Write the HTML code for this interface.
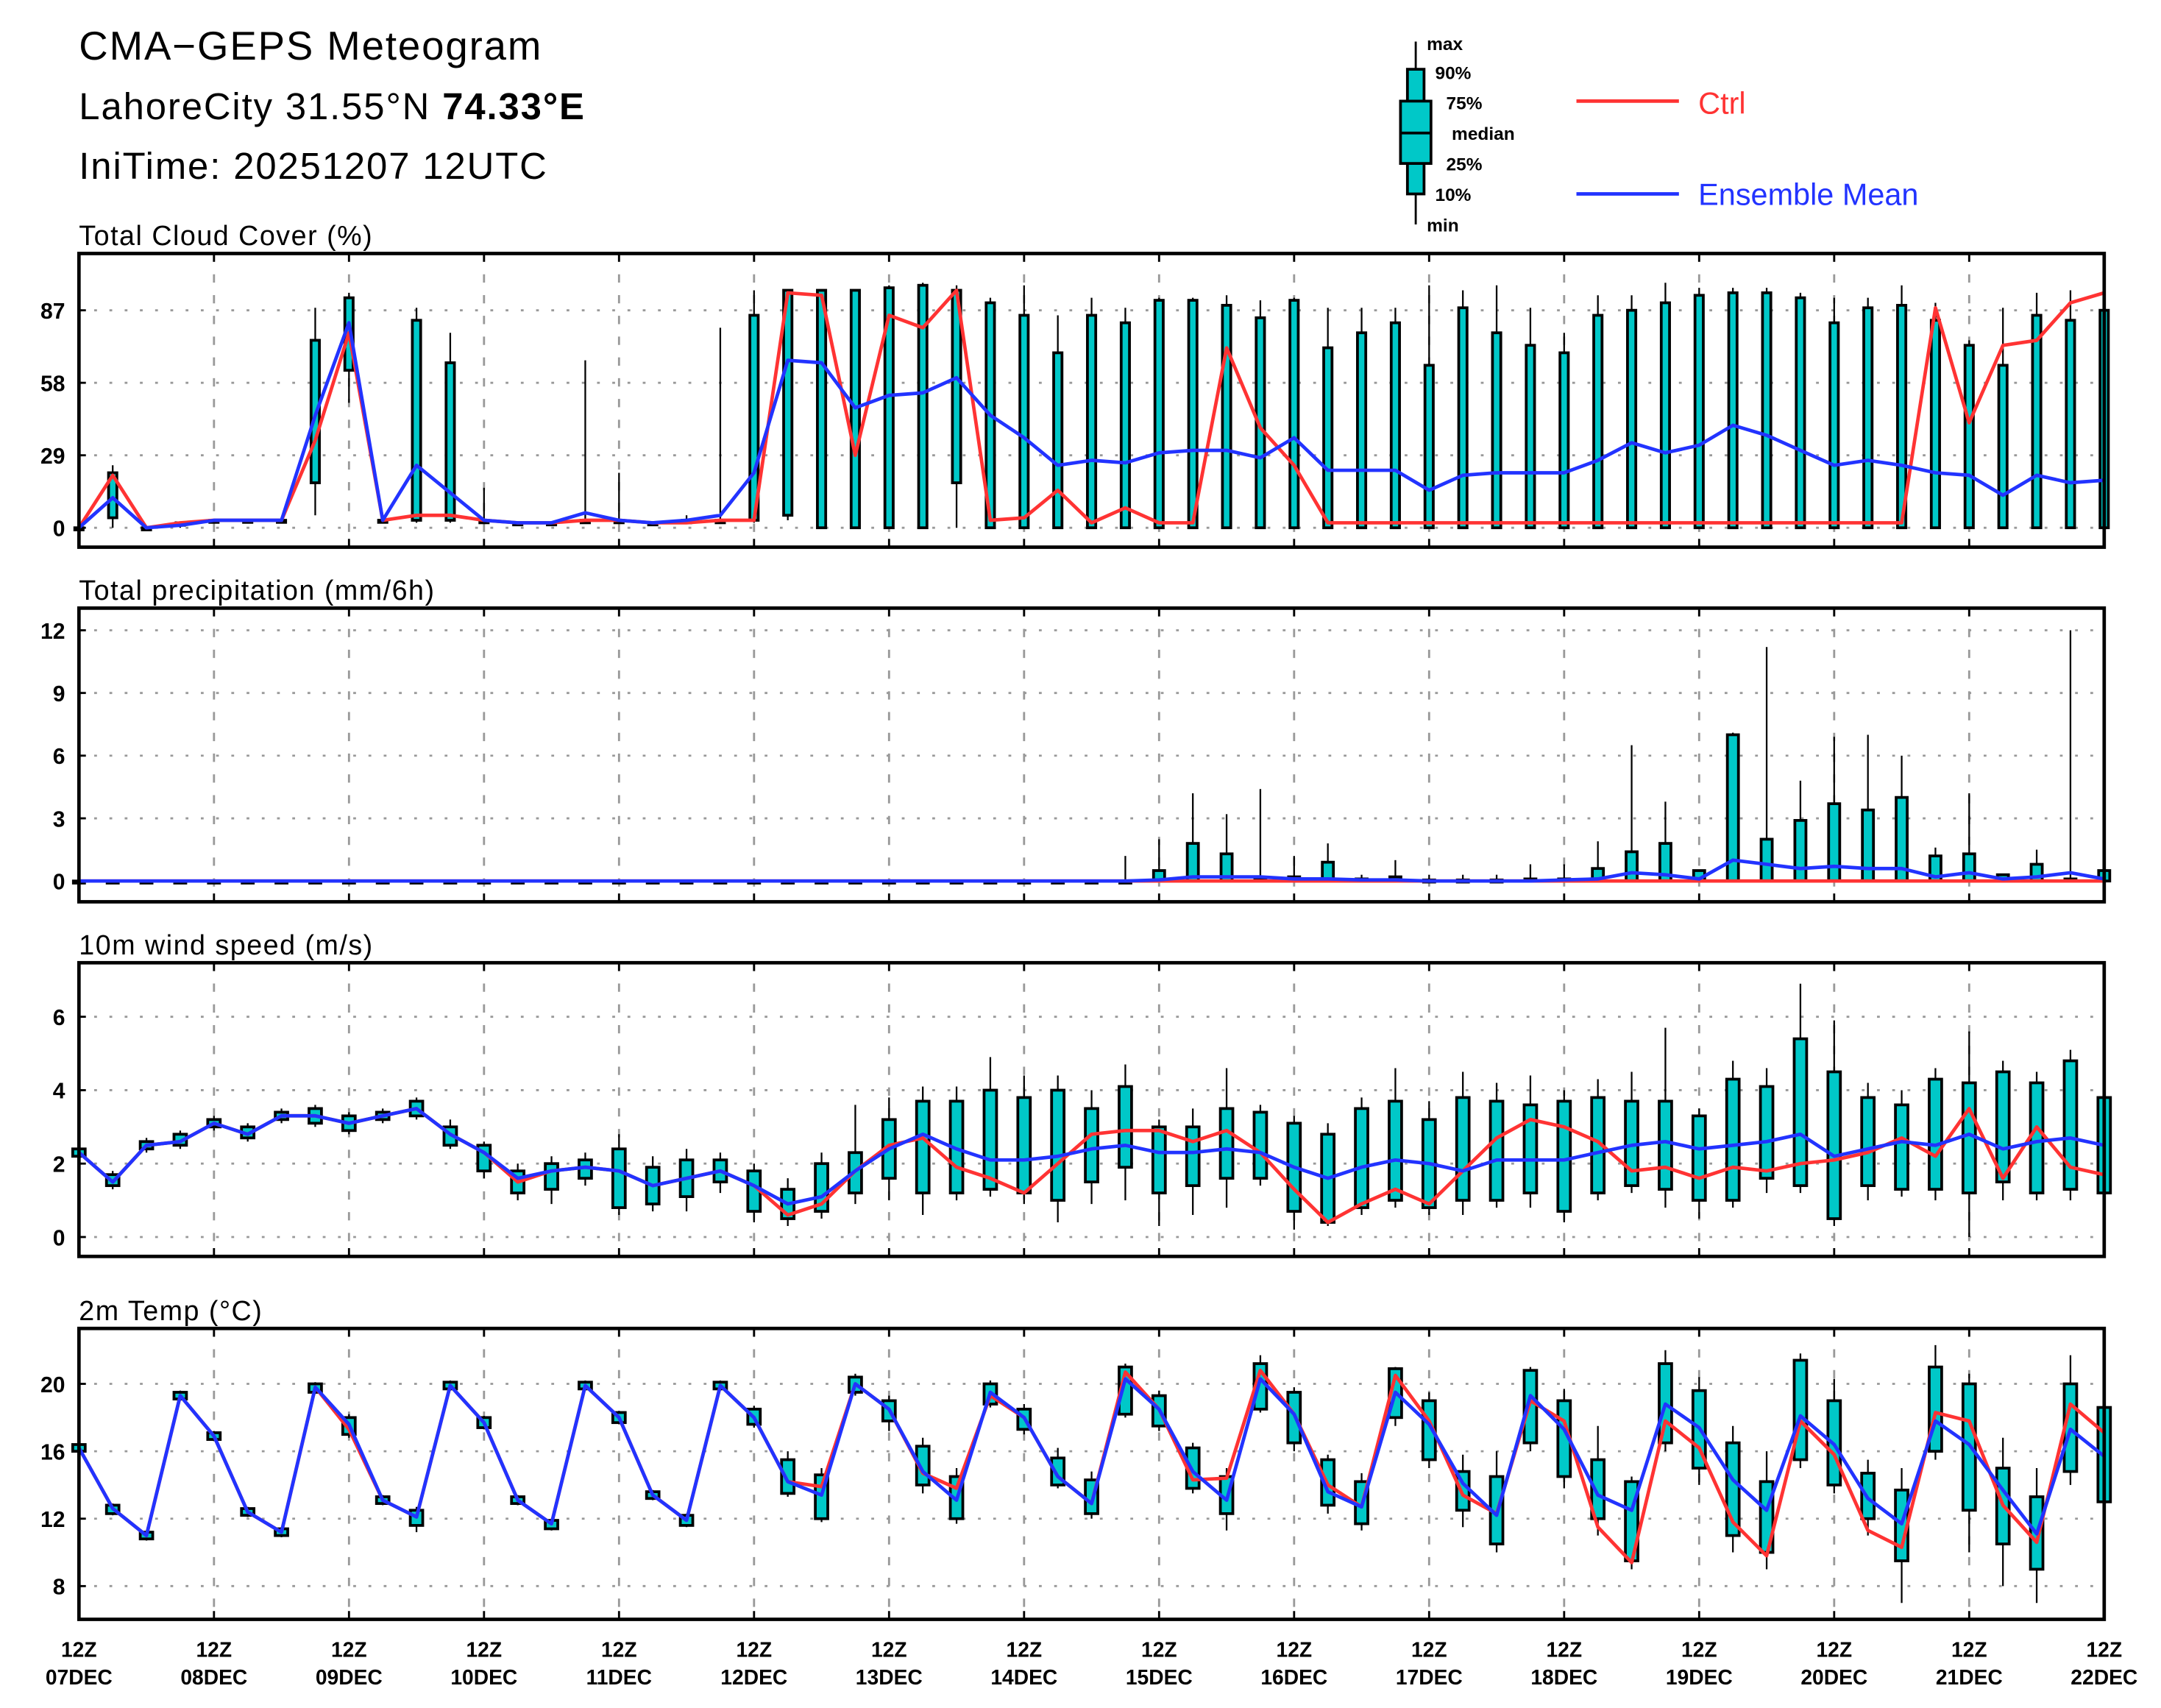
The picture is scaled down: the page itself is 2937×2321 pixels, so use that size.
<!DOCTYPE html>
<html><head><meta charset="utf-8"><style>
html,body{margin:0;padding:0;background:#fff}
svg{display:block}
text{font-family:"Liberation Sans",sans-serif}
</style></head><body>
<svg id="chart" width="2937" height="2321" viewBox="0 0 1560 1233" preserveAspectRatio="none" xmlns="http://www.w3.org/2000/svg">
<rect width="1560" height="1233" fill="#fff"/>
<text x="57" y="43" font-size="29" letter-spacing="1">CMA−GEPS Meteogram</text>
<text x="57" y="86" font-size="27" letter-spacing="1">LahoreCity 31.55°N <tspan font-weight="bold">74.33°E</tspan></text>
<text x="57" y="129" font-size="27" letter-spacing="1">IniTime: 20251207 12UTC</text>
<g font-size="13" font-weight="bold">
<line x1="1022" y1="30" x2="1022" y2="162" stroke="#000" stroke-width="1.5"/>
<rect x="1016" y="50" width="12" height="90" fill="#00c8c8" stroke="#000" stroke-width="2"/>
<rect x="1011" y="73" width="22" height="45" fill="#00c8c8" stroke="#000" stroke-width="2"/>
<line x1="1011" y1="96" x2="1033" y2="96" stroke="#000" stroke-width="2"/>
<text x="1030" y="36">max</text><text x="1036" y="57">90%</text><text x="1044" y="79">75%</text>
<text x="1048" y="101">median</text><text x="1044" y="123">25%</text><text x="1036" y="145">10%</text><text x="1030" y="167">min</text>
</g>
<g><line x1="1138" y1="73" x2="1212" y2="73" stroke="#ff3333" stroke-width="2.5"/><text x="1226" y="82" font-size="22" fill="#ff3333">Ctrl</text></g>
<g><line x1="1138" y1="140" x2="1212" y2="140" stroke="#2233ff" stroke-width="2.5"/><text x="1226" y="148" font-size="22" fill="#2233ff">Ensemble Mean</text></g>
<g id="panels"></g>
</svg>
<script>
const days=["07DEC","08DEC","09DEC","10DEC","11DEC","12DEC","13DEC","14DEC","15DEC","16DEC","17DEC","18DEC","19DEC","20DEC","21DEC","22DEC"];
const z31=new Array(31).fill(0);
// Cloud cover
const cloudCtrl=[0,21,0,2,3,3,3,35,78,3,5,5,3,2,2,3,3,2,2,3,3,94,93,29,85,80,95,3,4,15,2,8,2,2,72,40,25,2,2,2,2,2,2,2,2,2,2,2,2,2,2,2,2,2,2,88,42,73,75,90,94];
const cloudMean=[0,12,0,1,3,3,3,45,82,3,25,14,3,2,2,6,3,2,3,5,22,67,66,48,53,54,60,45,36,25,27,26,30,31,31,28,36,23,23,23,15,21,22,22,22,27,34,30,33,41,37,31,25,27,25,22,21,13,21,18,19];
const cloudHi=[0,22,0,2,3,3,3,75,92,3,83,66,3,2,2,3,3,2,3,3,85,95,95,95,96,97,95,90,85,70,85,82,91,91,89,84,91,72,78,82,65,88,78,73,70,85,87,90,93,94,94,92,82,88,89,83,73,65,85,83,87];
const cloudLo=[0,4,0,1,3,3,3,18,63,3,3,3,2,2,2,2,2,2,2,2,3,5,0,0,0,0,18,0,0,0,0,0,0,0,0,0,0,0,0,0,0,0,0,0,0,0,0,0,0,0,0,0,0,0,0,0,0,0,0,0,0];
const cloudMx=[0,25,0,2,3,3,3,88,94,3,88,78,16,2,2,67,22,2,5,80,95,95,95,95,97,98,97,92,97,85,92,88,92,92,93,91,92,88,88,88,97,95,97,88,78,93,93,98,96,96,96,94,92,92,97,90,75,88,94,95,94];
const cloudMn=[0,0,0,0,2,2,2,5,50,2,2,2,2,2,2,2,2,2,2,2,2,3,0,0,0,0,0,0,0,0,0,0,0,0,0,0,0,0,0,0,0,0,0,0,0,0,0,0,0,0,0,0,0,0,0,0,0,0,0,0,0];
// Precipitation
const precCtrl=new Array(61).fill(0);
const precLo=new Array(61).fill(0);
const precHi=z31.concat([0,0.5,1.8,1.3,0.1,0.2,0.9,0.1,0.2,0.05,0.05,0.05,0.1,0.1,0.6,1.4,1.8,0.5,7,2,2.9,3.7,3.4,4,1.2,1.3,0.3,0.8,0.1,0.5]);
const precMx=z31.concat([1.2,2,4.2,3.2,4.4,1.2,1.8,0.3,1.0,0.3,0.3,0.3,0.8,0.8,1.9,6.5,3.8,0.5,7.1,11.2,4.8,6.9,7,6,1.6,4.2,0.3,1.5,12,0.6]);
const precMean=z31.concat([0,0.05,0.2,0.2,0.2,0.1,0.1,0.05,0.05,0,0,0,0,0.05,0.1,0.4,0.3,0.1,1.0,0.8,0.6,0.7,0.6,0.6,0.2,0.4,0.1,0.2,0.4,0.1]);
const precMn=new Array(61).fill(0);
// Wind
const windCtrl=[2.3,1.5,2.5,2.6,3.1,2.8,3.3,3.3,3.1,3.3,3.5,2.8,2.3,1.5,1.8,1.9,1.8,1.4,1.6,1.8,1.4,0.6,0.9,1.8,2.5,2.7,1.9,1.6,1.2,2.0,2.8,2.9,2.9,2.6,2.9,2.3,1.3,0.4,0.9,1.3,0.9,1.8,2.7,3.2,3.0,2.6,1.8,1.9,1.6,1.9,1.8,2.0,2.1,2.3,2.7,2.2,3.5,1.6,3.0,1.9,1.7];
const windMean=[2.3,1.5,2.5,2.6,3.1,2.8,3.3,3.3,3.1,3.3,3.5,2.8,2.3,1.6,1.8,1.9,1.8,1.4,1.6,1.8,1.4,0.9,1.1,1.8,2.4,2.8,2.4,2.1,2.1,2.2,2.4,2.5,2.3,2.3,2.4,2.3,1.9,1.6,1.9,2.1,2.0,1.8,2.1,2.1,2.1,2.3,2.5,2.6,2.4,2.5,2.6,2.8,2.2,2.4,2.6,2.5,2.8,2.4,2.6,2.7,2.5];
const windLo=[2.2,1.4,2.4,2.5,3.0,2.7,3.2,3.1,2.9,3.2,3.3,2.5,1.8,1.2,1.3,1.6,0.8,0.9,1.1,1.5,0.7,0.5,0.7,1.2,1.6,1.2,1.2,1.3,1.2,1.0,1.5,1.9,1.2,1.4,1.6,1.6,0.7,0.4,0.8,1.0,0.8,1.0,1.0,1.2,0.7,1.2,1.4,1.3,1.0,1.0,1.6,1.4,0.5,1.4,1.3,1.3,1.2,1.5,1.2,1.3,1.2];
const windHi=[2.4,1.7,2.6,2.8,3.2,3.0,3.4,3.5,3.3,3.4,3.7,3.0,2.5,1.8,2.0,2.1,2.4,1.9,2.1,2.1,1.8,1.3,2.0,2.3,3.2,3.7,3.7,4.0,3.8,4.0,3.5,4.1,3.0,3.0,3.5,3.4,3.1,2.8,3.5,3.7,3.2,3.8,3.7,3.6,3.7,3.8,3.7,3.7,3.3,4.3,4.1,5.4,4.5,3.8,3.6,4.3,4.2,4.5,4.2,4.8,3.8];
const windMn=[2.1,1.3,2.3,2.4,2.9,2.6,3.1,3.0,2.8,3.1,3.2,2.4,1.6,1.0,0.9,1.4,0.6,0.7,0.7,1.2,0.4,0.3,0.5,0.9,1.0,0.6,1.0,1.1,0.9,0.4,0.9,1.0,0.3,0.6,0.8,1.4,0.2,0.3,0.6,0.8,0.6,0.6,0.8,0.8,0.4,1.0,1.2,0.8,0.5,0.8,1.2,1.2,0.3,1.0,1.1,1.0,0.0,1.0,1.0,1.0,1.0];
const windMx=[2.5,1.8,2.7,2.9,3.3,3.1,3.5,3.6,3.4,3.5,3.8,3.2,2.6,2.0,2.2,2.3,2.8,2.2,2.4,2.3,2.0,1.6,2.3,3.6,3.8,4.1,4.1,4.9,4.4,4.4,4.0,4.7,3.2,3.5,4.6,3.6,3.3,3.1,3.8,4.6,3.7,4.5,4.2,4.4,4.0,4.3,4.5,5.7,3.5,4.8,4.6,6.9,5.9,4.2,4.0,4.6,5.6,4.8,4.5,5.1,4.0];
// Temperature
const tempMean=[16.2,12.6,11.0,19.3,16.9,12.4,11.2,19.8,17.6,13.1,12.1,19.9,17.7,13.1,11.7,19.9,18.0,13.4,11.9,19.9,18.0,14.2,13.4,20.0,18.5,14.8,13.1,19.5,18.0,14.5,12.9,20.3,18.5,14.8,13.1,20.3,18.2,13.6,12.7,19.5,17.6,14.1,12.2,19.3,17.3,13.4,12.5,18.8,17.4,14.3,12.5,18.1,16.4,13.2,11.7,17.8,16.4,13.7,11.1,17.3,15.7];
const tempCtrl=[16.2,12.6,11.0,19.3,16.9,12.4,11.2,19.8,17.3,13.1,12.1,19.9,17.7,13.1,11.7,19.9,18.0,13.4,11.9,19.9,18.0,14.2,13.9,20.0,18.5,14.7,13.8,19.3,18.0,14.5,12.9,20.7,18.5,14.3,14.4,20.8,18.2,14.0,12.7,20.5,17.8,13.4,12.3,19.0,17.8,11.5,9.4,17.8,16.2,11.8,9.8,17.8,15.8,11.3,10.3,18.3,17.8,12.8,10.6,18.8,17.1];
const tempLo=[16.0,12.3,10.8,19.1,16.7,12.2,11.0,19.5,17.0,12.9,11.6,19.7,17.4,12.9,11.4,19.7,17.7,13.2,11.6,19.7,17.6,13.5,12.0,19.5,17.8,14.0,12.0,18.8,17.3,14.0,12.3,18.2,17.5,13.8,12.3,18.5,16.5,12.8,11.7,18.0,15.5,12.5,10.5,16.5,14.5,12.0,9.5,16.5,15.0,11.0,10.0,15.5,14.0,12.0,9.5,16.0,12.5,10.5,9.0,14.8,13.0];
const tempHi=[16.4,12.8,11.2,19.5,17.1,12.6,11.4,20.0,18.0,13.3,12.5,20.1,18.0,13.3,11.9,20.1,18.3,13.6,12.2,20.1,18.5,15.5,14.6,20.4,19.0,16.3,14.5,20.0,18.5,15.6,14.3,21.0,19.3,16.2,14.5,21.2,19.5,15.5,14.2,20.9,19.0,14.8,14.5,20.8,19.0,15.5,14.2,21.2,19.6,16.5,14.2,21.4,19.0,14.7,13.7,21.0,20.0,15.0,13.3,20.0,18.6];
const tempMn=[15.9,12.2,10.7,19.0,16.6,12.1,10.9,19.4,16.8,12.8,11.2,19.6,17.3,12.8,11.3,19.6,17.6,13.1,11.5,19.6,17.4,13.3,11.8,19.3,17.2,13.5,11.7,18.6,17.0,13.8,12.0,18.0,17.2,13.5,11.3,18.3,16.0,12.3,11.3,17.5,15.0,11.5,10.0,16.0,13.8,11.0,9.0,16.0,14.0,10.0,9.0,15.0,13.5,11.0,7.0,15.5,10.0,8.0,7.0,14.0,12.5];
const tempMx=[16.5,12.9,11.3,19.6,17.2,12.7,11.5,20.1,18.2,13.4,12.7,20.2,18.1,13.4,12.0,20.2,18.4,13.7,12.3,20.2,18.7,16.0,15.0,20.6,19.3,16.8,15.0,20.2,18.8,16.2,14.8,21.2,19.6,16.5,15.0,21.7,19.8,15.8,14.7,21.0,19.5,15.8,16.0,21.0,19.7,17.5,14.5,22.0,20.4,17.5,16.0,21.8,20.3,15.5,15.0,22.3,20.6,16.8,15.0,21.7,19.0];
const cloudTicks=[0,29,58,87],precTicks=[0,3,6,9,12],windTicks=[0,2,4,6],tempTicks=[8,12,16,20];

const NS="http://www.w3.org/2000/svg";
const root=document.getElementById('panels');
const X0=57,X1=1519,N=61;
const xOf=i=>X0+i*(X1-X0)/(N-1);
function mk(tag,attrs,parent){const e=document.createElementNS(NS,tag);for(const k in attrs)e.setAttribute(k,attrs[k]);(parent||root).appendChild(e);return e;}
function panel(name,title,top,bot,v0,y0,v1,y1,ticks,ctrl,mean,lo,hi,mn,mx,bw){
  const yOf=v=>y0+(v-v0)*(y1-y0)/(v1-v0);
  const g=mk('g',{});
  
  
  const t=mk('text',{x:57,y:top-6,'font-size':20,'letter-spacing':'0.8'},g);t.textContent=title;
  
  
  for(let d=1;d<15;d++){const x=X0+d*(X1-X0)/15;const l=mk('line',{x1:x,y1:top,x2:x,y2:bot,stroke:'#999','stroke-width':1.5,'stroke-dasharray':'6 9'},g);
    
    }
  ticks.forEach(v=>{const y=yOf(v);const l=mk('line',{x1:X0,y1:y,x2:X1,y2:y,stroke:'#999','stroke-width':1.5,'stroke-dasharray':'2 9'},g);
    
    
    const tk=mk('line',{x1:X0,y1:y,x2:X0+5,y2:y,stroke:'#000','stroke-width':1.5},g);
    const tx=mk('text',{x:X0-10,y:y+6,'font-size':16,'font-weight':'bold','text-anchor':'end'},g);tx.textContent=v;
    
    });
  for(let i=0;i<N;i++){const x=xOf(i);
    if(mx[i]-mn[i]>0.001){const w=mk('line',{x1:x,y1:yOf(mn[i]),x2:x,y2:yOf(mx[i]),stroke:'#000','stroke-width':1.2},g);
      
      }
    const h=Math.max(1.5,Math.abs(yOf(lo[i])-yOf(hi[i])));
    const b=mk('rect',{x:x-bw/2,y:Math.min(yOf(lo[i]),yOf(hi[i])),width:bw,height:h,fill:'#00c8c8',stroke:'#000','stroke-width':2},g);
    
    }
  const pts=a=>a.map((v,i)=>xOf(i).toFixed(1)+','+yOf(v).toFixed(1)).join(' ');
  const pc=mk('polyline',{points:pts(ctrl),fill:'none',stroke:'#ff3333','stroke-width':2.5,'stroke-linejoin':'round'},g);
  
  
  const pm=mk('polyline',{points:pts(mean),fill:'none',stroke:'#2233ff','stroke-width':2.5,'stroke-linejoin':'round'},g);
  
  
  const fr=mk('rect',{x:X0,y:top,width:X1-X0,height:bot-top,fill:'none',stroke:'#000','stroke-width':2.5},g);
  
  
  for(let d=0;d<=15;d++){const x=X0+d*(X1-X0)/15;mk('line',{x1:x,y1:bot,x2:x,y2:bot-6,stroke:'#000','stroke-width':1.5},g);mk('line',{x1:x,y1:top,x2:x,y2:top+6,stroke:'#000','stroke-width':1.5},g);}
}
panel('cloud','Total Cloud Cover (%)',183,395,0,381,87,224,cloudTicks,cloudCtrl,cloudMean,cloudLo,cloudHi,cloudMn,cloudMx,6);
panel('precip','Total precipitation (mm/6h)',439,651,0,636,12,455,precTicks,precCtrl,precMean,precLo,precHi,precMn,precMx,8);
panel('wind','10m wind speed (m/s)',695,907,0,893,6,734,windTicks,windCtrl,windMean,windLo,windHi,windMn,windMx,9);
panel('temp','2m Temp (°C)',959,1169,8,1145,20,999,tempTicks,tempCtrl,tempMean,tempLo,tempHi,tempMn,tempMx,9);
days.forEach((d,k)=>{const x=X0+k*(X1-X0)/15;
  const a=mk('text',{x:x,y:1196,'font-size':15,'font-weight':'bold','text-anchor':'middle'});a.textContent='12Z';
  
  
  const b=mk('text',{x:x,y:1216,'font-size':15,'font-weight':'bold','text-anchor':'middle'});b.textContent=d;
  
  });
</script>
</body></html>
